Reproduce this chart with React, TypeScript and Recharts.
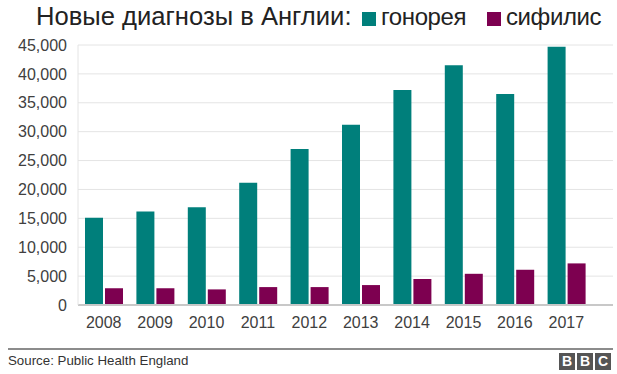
import React from 'react';
import { BarChart, Bar, XAxis, YAxis, CartesianGrid } from 'recharts';

const years = ['2008', '2009', '2010', '2011', '2012', '2013', '2014', '2015', '2016', '2017'];
const gonorrhoea = [15100, 16200, 16900, 21150, 27000, 31200, 37200, 41500, 36500, 44700];
const syphilis = [2900, 2900, 2700, 3100, 3100, 3450, 4500, 5400, 6100, 7200];
const yTicks = [0, 5000, 10000, 15000, 20000, 25000, 30000, 35000, 40000, 45000];

const TEAL = '#007f7b';
const PLUM = '#7d0050';
const FONT = '"Liberation Sans", Arial, Helvetica, sans-serif';

const data = years.map((year, i) => ({
    year,
    gonorrhoea: gonorrhoea[i],
    syphilis: syphilis[i],
}));

// legend sits inside the title line, like the BBC original
const LegendItem = ({ color, label, x }: { color: string; label: string; x: number }) => (
    <div style={{ position: 'absolute', left: x, top: 0, whiteSpace: 'nowrap' }}>
        <span
            style={{
                position: 'absolute',
                left: 0,
                top: 12,
                width: 14,
                height: 14,
                background: color,
            }}
        />
        <span
            style={{
                position: 'absolute',
                left: 19,
                top: 3,
                fontSize: 24,
                letterSpacing: -0.4,
                color: '#222',
            }}
        >
            {label}
        </span>
    </div>
);

const BbcLogo = () => (
    <div style={{ position: 'absolute', left: 559, top: 353, display: 'flex', gap: 2 }}>
        {['B', 'B', 'C'].map((ch, i) => (
            <div
                key={i}
                style={{
                    width: 16,
                    height: 17,
                    background: '#555',
                    color: '#fff',
                    fontSize: 14,
                    fontWeight: 'bold',
                    lineHeight: '17px',
                    textAlign: 'center',
                }}
            >
                {ch}
            </div>
        ))}
    </div>
);

export default function App() {
    return (
        <div
            style={{
                position: 'absolute',
                left: 0,
                top: 0,
                width: 617,
                height: 374,
                background: '#fff',
                fontFamily: FONT,
                overflow: 'hidden',
            }}
        >
            <div
                style={{
                    position: 'absolute',
                    left: 36,
                    top: 2,
                    fontSize: 25.6,
                    color: '#222',
                    whiteSpace: 'nowrap',
                }}
            >
                Новые диагнозы в Англии:
            </div>
            <LegendItem color={TEAL} label="гонорея" x={362} />
            <LegendItem color={PLUM} label="сифилис" x={487} />
            <div style={{ position: 'absolute', left: 0, top: 0 }}>
                <BarChart
                    width={617}
                    height={340}
                    data={data}
                    margin={{ top: 45, right: 4, left: 0, bottom: 5 }}
                    barGap={2}
                    barSize={18}
                >
                    <CartesianGrid vertical={false} stroke="#e4e4e4" />
                    <XAxis
                        dataKey="year"
                        height={30}
                        padding={{ left: 0, right: 21 }}
                        tickLine={false}
                        tickSize={0}
                        tickMargin={12}
                        axisLine={{ stroke: '#c8c8c8', strokeWidth: 2 }}
                        tick={{ fill: '#404040', fontSize: 16, fontFamily: FONT }}
                    />
                    <YAxis
                        width={78}
                        domain={[0, 45000]}
                        ticks={yTicks}
                        interval={0}
                        tickLine={false}
                        tickSize={0}
                        tickMargin={11}
                        axisLine={{ stroke: '#e4e4e4' }}
                        tickFormatter={v => v.toLocaleString('en-US')}
                        tick={{ fill: '#404040', fontSize: 16, fontFamily: FONT }}
                    />
                    <Bar dataKey="gonorrhoea" fill={TEAL} isAnimationActive={false} />
                    <Bar dataKey="syphilis" fill={PLUM} isAnimationActive={false} />
                </BarChart>
            </div>
            <div
                style={{
                    position: 'absolute',
                    left: 8,
                    top: 348,
                    width: 605,
                    height: 2,
                    background: '#8c8c8c',
                }}
            />
            <div style={{ position: 'absolute', left: 8, top: 353, fontSize: 13.3, color: '#333' }}>
                Source: Public Health England
            </div>
            <BbcLogo />
        </div>
    );
}
